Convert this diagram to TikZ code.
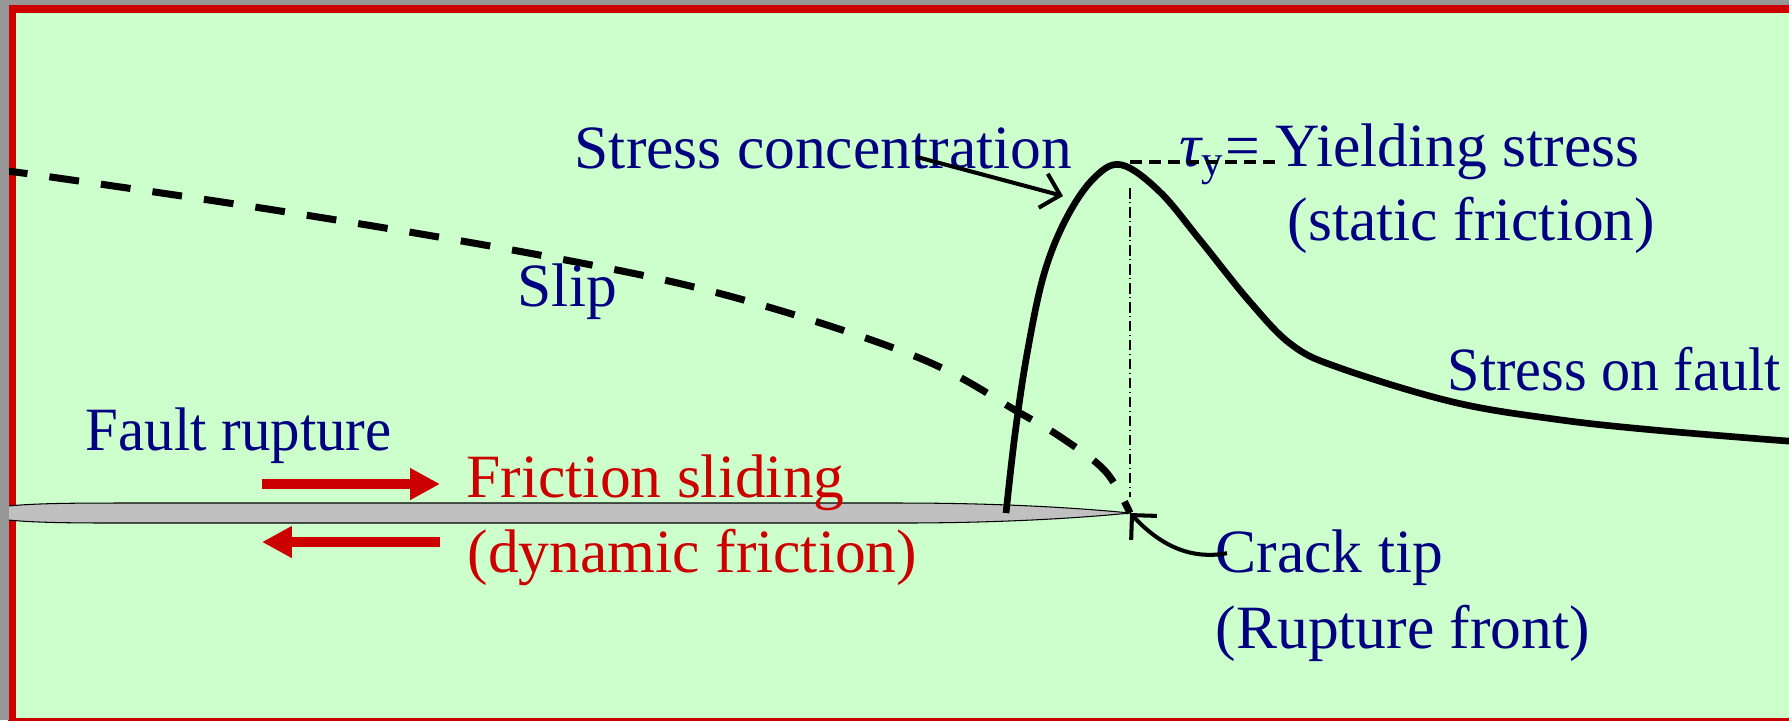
\documentclass[tikz,border=0pt]{standalone}
\usepackage{fontspec}
\setmainfont{Liberation Serif}
\usetikzlibrary{positioning, arrows.meta}
\definecolor{slidebg}{HTML}{CCFFCC}
\definecolor{framered}{HTML}{CC0000}
\definecolor{textblue}{HTML}{000080}
\definecolor{margingray}{HTML}{969696}
\definecolor{faultgray}{HTML}{C0C0C0}

\begin{document}
\begin{tikzpicture}[
        x=0.01cm, y=-0.01cm,
        font=\fontsize{17.5}{21}\selectfont,
        bluetext/.style={text=textblue, inner sep=0pt, anchor=base west},
        redtext/.style={text=framered, inner sep=0pt, anchor=base west},
        stresscurve/.style={line width=1.9pt, line join=round},
        slipcurve/.style={line width=2pt, dash pattern=on 8.5pt off 6.3pt},
        yieldline/.style={line width=1.1pt, dash pattern=on 3.4pt off 2pt},
        guideline/.style={line width=0.3pt, dash pattern=on 3pt off 1pt on 0.4pt off 1pt},
        pointer/.style={-{Straight Barb[length=5pt,width=10pt]}, line width=1.15pt},
        push/.style={-{Triangle[length=8.5pt,width=8.5pt]}, line width=2.85pt, draw=framered}
    ]

    \clip (0,0) rectangle (1789,720);
    \draw [framered, line width=2pt, fill=slidebg] (12,9) rectangle (1820,721);

    % fault plane
    \draw [fill=faultgray, line width=0.3pt] (-30,513) .. controls (0,504) and (40,503) .. (120,503)
        -- (900,503) .. controls (1020,503) and (1100,510) .. (1130,513)
        .. controls (1100,516) and (1020,523) .. (900,523)
        -- (120,523) .. controls (40,523) and (0,522) .. cycle;

    \coordinate (tip) at (1130,513);
    \coordinate (peak) at (1122,165);
    \coordinate (flank) at (1063,196);

    \node (conc) [bluetext] at (574,168) {Stress concentration};
    \node (yield) [bluetext] at (1179,166) {{\itshape τ}\textsubscript{y}= Yielding stress};
    \node (static) [bluetext] at (1287,240) {(static friction)};
    \node (slip) [bluetext] at (517,306) {Slip};
    \node (onfault) [bluetext] at (1447,390) {\scalebox{0.945}[1]{Stress on fault}};
    \node (rupture) [bluetext] at (85,450) {\scalebox{0.957}[1]{Fault rupture}};
    \node (sliding) [redtext] at (466,497) {Friction sliding};
    \node (dynamic) [redtext] at (467,572) {(dynamic friction)};
    \node (crack) [bluetext] at (1215,572) {Crack tip};
    \node (front) [bluetext] at (1215,648) {(Rupture front)};

    % slip and stress profiles
    \draw [slipcurve] plot [smooth, tension=0.6] coordinates {(0,171) (37,175) (293,213) (550,257) (733,297) (917,357) (1020,413) (1065,440) (1106,472) (tip)};
    \draw [stresscurve] plot [smooth, tension=0.6] coordinates {(1006,513) (1015,434) (1027,354) (1044,274) (1067,217) (1095,177) (peak) (1160,192) (1200,240) (1250,302) (1292,345) (1340,368) (1453,402) (1554,419) (1654,430) (1800,442)};

    \draw [yieldline] ([shift={(8,-3)}]peak) -- ++(147,0);
    \draw [guideline] ([shift={(8,23)}]peak) -- ([shift={(0,-16)}]tip);

    \draw [pointer] ([shift={(343,-11)}]conc.base west) -- (flank);
    \draw [pointer] ([shift={(12,-4)}]crack.west) .. controls (1190,560) and (1160,545) .. (tip);

    \draw [push] (262,484) -- (440,484);
    \draw [push] (440,542) -- (262,542);

    \fill [margingray] (0,0) rectangle (9,720);
    \fill [margingray] (0,0) rectangle (1789,5);

\end{tikzpicture}
\end{document}
